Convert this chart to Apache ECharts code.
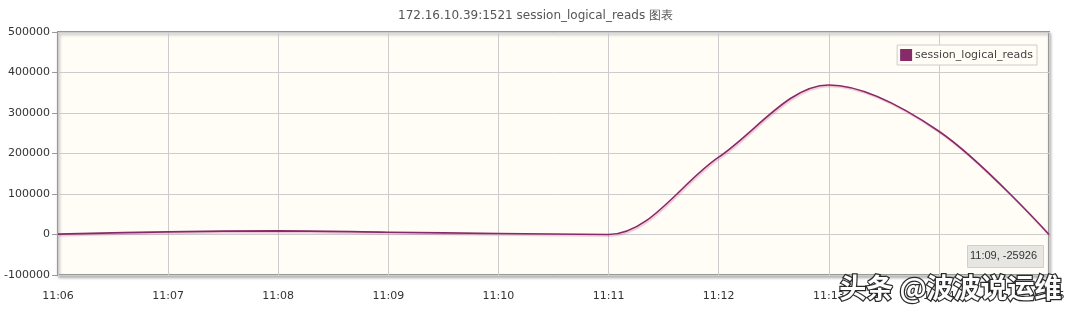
<!DOCTYPE html>
<html>
<head>
<meta charset="utf-8">
<script src="https://cdn.jsdelivr.net/npm/echarts@6/dist/echarts.min.js"></script>
<style>
html,body{margin:0;padding:0;background:#fff;}
#c{width:1071px;height:311px;}
</style>
</head>
<body>
<div id="c"></div>
<script>
const titleText = '172.16.10.39:1521 session_logical_reads 图表';
const seriesName = 'session_logical_reads';
const categories = ['11:06','11:07','11:08','11:09','11:10','11:11','11:12','11:13','11:14','11:15'];
const values = [1000, 6500, 9000, 5700, 2500, 0, 191000, 369000, 255000, 0];
const yTicks = [-100000, 0, 100000, 200000, 300000, 400000, 500000];
const tooltipText = '11:09, -25926';
const watermarkText = '头条 @波波说运维';

const chart = echarts.init(document.getElementById('c'), null, {renderer: 'canvas'});
const lineColor = '#862a68';
chart.setOption({
  animation: false,
  backgroundColor: '#ffffff',
  title: {
    text: titleText,
    left: 'center',
    top: 5,
    textStyle: {fontFamily: 'DejaVu Sans', fontSize: 12, fontWeight: 'normal', color: '#555'}
  },
  legend: {
    data: [{name: seriesName, icon: 'rect'}],
    right: 34,
    top: 45,
    orient: 'vertical',
    itemWidth: 12,
    itemHeight: 12,
    itemGap: 0,
    padding: [4, 4, 4, 3],
    borderColor: '#cccccc',
    borderWidth: 1,
    backgroundColor: '#fffdf6',
    textStyle: {fontFamily: 'DejaVu Sans', fontSize: 11, color: '#444', padding: [0, 0, 0, -2]}
  },
  grid: {
    left: 58, right: 22, top: 32, bottom: 36,
    show: true,
    backgroundColor: '#fffdf6',
    borderColor: '#999999',
    borderWidth: 2,
    shadowColor: 'rgba(0,0,0,0.25)',
    shadowBlur: 3,
    shadowOffsetX: 1,
    shadowOffsetY: 2
  },
  xAxis: {
    type: 'category',
    data: categories,
    boundaryGap: false,
    axisLine: {show: false},
    axisTick: {show: false},
    axisLabel: {fontFamily: 'DejaVu Sans', fontSize: 11, color: '#333', margin: 16, interval: 0},
    splitLine: {show: true, lineStyle: {color: '#cccccc', width: 1}}
  },
  yAxis: {
    type: 'value',
    min: yTicks[0],
    max: yTicks[yTicks.length - 1],
    interval: 100000,
    axisLine: {show: false},
    axisTick: {show: true, length: 6, lineStyle: {color: '#999'}},
    axisLabel: {fontFamily: 'DejaVu Sans', fontSize: 11, color: '#333', margin: 8, formatter: v => String(v)},
    splitLine: {show: true, lineStyle: {color: '#cccccc', width: 1}}
  },
  series: [{
    name: seriesName,
    type: 'line',
    data: values,
    smooth: 0.34,
    symbol: 'none',
    color: lineColor,
    lineStyle: {
      color: lineColor,
      width: 1.6,
      shadowColor: 'rgba(200,80,140,0.35)',
      shadowBlur: 1,
      shadowOffsetX: 1,
      shadowOffsetY: 1.5
    }
  }],
  graphic: [
    {
      type: 'rect',
      left: 967, top: 245,
      shape: {width: 76, height: 22},
      style: {fill: '#e6e6e3', stroke: '#cfcfcf', lineWidth: 1},
      z: 100
    },
    {
      type: 'text',
      left: 970, top: 250,
      style: {text: tooltipText, fontFamily: 'Liberation Sans', fontSize: 11, fill: '#333'},
      z: 101
    },
    {
      type: 'text',
      left: 838, top: 273,
      style: {text: watermarkText, fontFamily: 'Noto Sans CJK SC', fontSize: 27, fontWeight: 'bold', fill: '#ffffff', stroke: '#2a2a2a', lineWidth: 2.5},
      z: 200
    }
  ]
});
</script>
</body>
</html>
